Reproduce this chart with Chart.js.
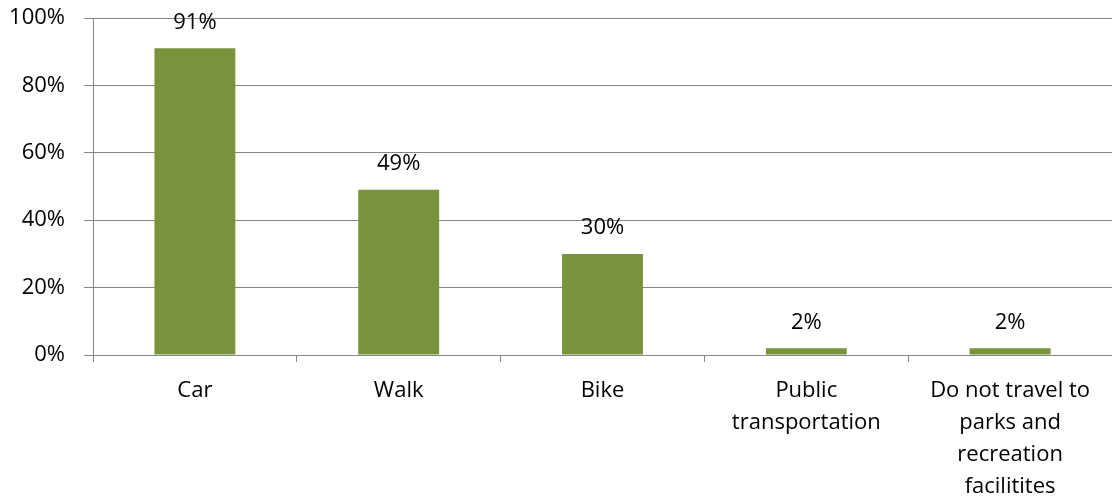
<!DOCTYPE html>
<html lang="en">
<head>
    <meta charset="UTF-8">
    <title>Travel to parks</title>
    <script src="https://cdn.jsdelivr.net/npm/chart.js"></script>
    <style>
        body {
            margin: 0;
            background: #ffffff;
        }
    </style>
</head>
<body>
    <canvas id="modeChart" width="1112" height="500"></canvas>

    <script>
        const categories = [
            'Car',
            'Walk',
            'Bike',
            ['Public', 'transportation'],
            ['Do not travel to', 'parks and', 'recreation', 'facilitites']
        ];
        const percentages = [91, 49, 30, 2, 2];
        const yTicks = [0, 20, 40, 60, 80, 100];

        // labels au-dessus des barres
        const barLabels = {
            id: 'barLabels',
            afterDatasetsDraw(chart) {
                const ctx = chart.ctx;
                const meta = chart.getDatasetMeta(0);
                ctx.save();
                ctx.font = '22px "Open Sans"';
                ctx.fillStyle = '#000';
                ctx.textAlign = 'center';
                ctx.textBaseline = 'middle';
                meta.data.forEach(function(bar, i) {
                    ctx.fillText(percentages[i] + '%', bar.x, bar.y - 26);
                });
                ctx.restore();
            }
        };

        const ctx = document.getElementById('modeChart').getContext('2d');
        new Chart(ctx, {
            type: 'bar',
            data: {
                labels: categories,
                datasets: [{
                    data: percentages,
                    backgroundColor: '#77933C',
                    barPercentage: 0.397,
                    categoryPercentage: 1
                }]
            },
            options: {
                responsive: false,
                animation: false,
                layout: { padding: { top: 18, right: -2, left: 0, bottom: 0 } },
                plugins: {
                    legend: { display: false },
                    tooltip: { enabled: false }
                },
                scales: {
                    x: {
                        afterFit: function(scale) {
                            scale.height = 145;
                            scale.paddingLeft = 0;
                            scale.paddingRight = 0;
                        },
                        grid: {
                            offset: true,
                            drawOnChartArea: false,
                            drawTicks: true,
                            tickLength: 7,
                            color: '#868686'
                        },
                        border: { color: '#868686' },
                        ticks: {
                            color: '#000',
                            padding: 13,
                            maxRotation: 0,
                            autoSkip: false,
                            font: { family: 'Open Sans', size: 22, lineHeight: 1.45 }
                        }
                    },
                    y: {
                        min: 0,
                        max: 100,
                        afterFit: function(scale) {
                            scale.width = 93;
                            scale.paddingTop = 0;
                            scale.paddingBottom = 0;
                        },
                        afterBuildTicks: function(scale) {
                            scale.ticks = yTicks.map(v => ({ value: v }));
                        },
                        grid: {
                            color: '#868686',
                            tickLength: 9
                        },
                        border: { color: '#868686' },
                        ticks: {
                            color: '#000',
                            padding: 19,
                            font: { family: 'Open Sans', size: 22 },
                            callback: v => v + '%'
                        }
                    }
                }
            },
            plugins: [barLabels]
        });
    </script>
</body>
</html>
